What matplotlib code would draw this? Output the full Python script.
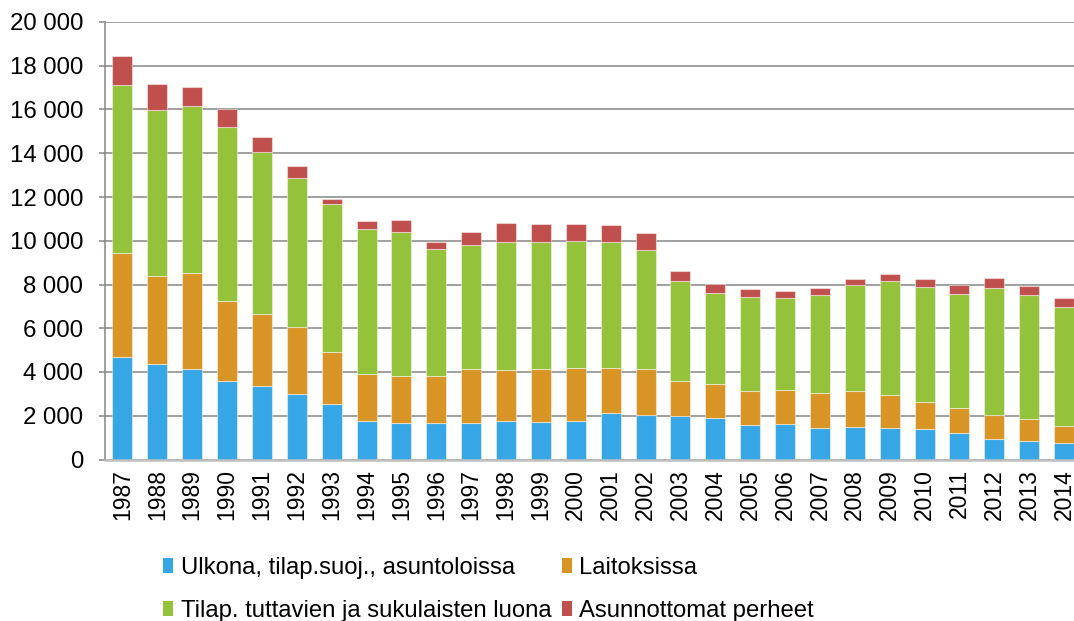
"""
plot.py
----------------------------------
Stacked bars of homeless people in Finland by living situation, 1987-2014.
Writes out.png.
"""

import numpy as np
import matplotlib
matplotlib.use("Agg")
import matplotlib.pyplot as plt
from matplotlib.patches import Patch

plt.rcParams["font.family"] = ["Liberation Sans", "DejaVu Sans"]

years = [str(y) for y in range(1987, 2015)]

ulkona = [4680, 4370, 4150, 3580, 3350, 3000, 2550, 1740, 1690, 1690,
          1690, 1770, 1720, 1780, 2130, 2040, 2000, 1900, 1590, 1630,
          1450, 1500, 1450, 1400, 1210, 950, 860, 750]
laitoksissa = [4750, 4010, 4390, 3670, 3320, 3040, 2370, 2180, 2120, 2120,
               2450, 2330, 2410, 2410, 2070, 2090, 1610, 1540, 1550, 1550,
               1600, 1650, 1480, 1210, 1160, 1100, 1000, 790]
tuttavat = [7670, 7590, 7640, 7970, 7390, 6830, 6740, 6610, 6600, 5790,
            5650, 5850, 5820, 5790, 5730, 5430, 4560, 4180, 4270, 4190,
            4470, 4830, 5220, 5280, 5210, 5800, 5650, 5420]
perheet = [1350, 1180, 850, 790, 700, 560, 230, 380, 560, 350,
           610, 840, 810, 780, 790, 780, 440, 380, 370, 310,
           310, 290, 320, 350, 410, 440, 430, 410]

labels = ["Ulkona, tilap.suoj., asuntoloissa", "Laitoksissa",
          "Tilap. tuttavien ja sukulaisten luona", "Asunnottomat perheet"]
colors = ["#37A6E6", "#D99426", "#94C23A", "#C0504D"]

yticks = list(range(0, 20001, 2000))


def fmt(v):
    return f"{v:,}".replace(",", " ")


def main():
    fig = plt.figure(figsize=(10.74, 6.21), dpi=100)
    ax = fig.add_axes([105 / 1074, 1 - 459.5 / 621, 976.5 / 1074, 437.5 / 621])

    x = np.arange(len(years))
    bottom = np.zeros(len(years))
    series = [ulkona, laitoksissa, tuttavat, perheet]
    for vals, col, lab in zip(series, colors, labels):
        ax.bar(x, vals, width=0.575, bottom=bottom, color=col, label=lab,
               edgecolor=(1, 1, 1, 0.45), linewidth=0.8, zorder=3)
        bottom += np.array(vals)

    ax.set_xlim(-0.5, len(years) - 0.5)
    ax.set_ylim(0, 20000)
    ax.set_yticks(yticks)
    ax.set_yticklabels([fmt(v) for v in yticks], fontsize=17.3)
    ax.set_xticks(x)
    ax.set_xticklabels(years, rotation=90, fontsize=16.5)
    ax.tick_params(axis="x", length=0, pad=7)
    ax.tick_params(axis="y", length=4, width=1.1, color="#868686", pad=11.5)

    ax.grid(axis="y", color="#868686", linewidth=1.1, zorder=0)
    ax.set_axisbelow(True)
    for s in ["top", "right"]:
        ax.spines[s].set_visible(False)
    ax.spines["left"].set_color("#868686")
    ax.spines["left"].set_linewidth(1.1)
    ax.spines["bottom"].set_color("#BFBFBF")
    ax.spines["bottom"].set_linewidth(1.8)
    ax.spines["bottom"].set_zorder(4)

    # legend: column-first fill, so order blue, green, orange, red
    order = [0, 2, 1, 3]
    handles = [Patch(facecolor=colors[i], edgecolor="none") for i in order]
    fig.legend(handles, [labels[i] for i in order], ncol=2,
               loc="upper left", bbox_to_anchor=(163 / 1074, 1 - 557 / 621),
               frameon=False, fontsize=17.2, borderpad=0, borderaxespad=0,
               handlelength=0.42, handleheight=0.55, handletextpad=0.33,
               columnspacing=0.42, labelspacing=0.88)

    fig.savefig("out.png", dpi=100)


if __name__ == "__main__":
    main()
